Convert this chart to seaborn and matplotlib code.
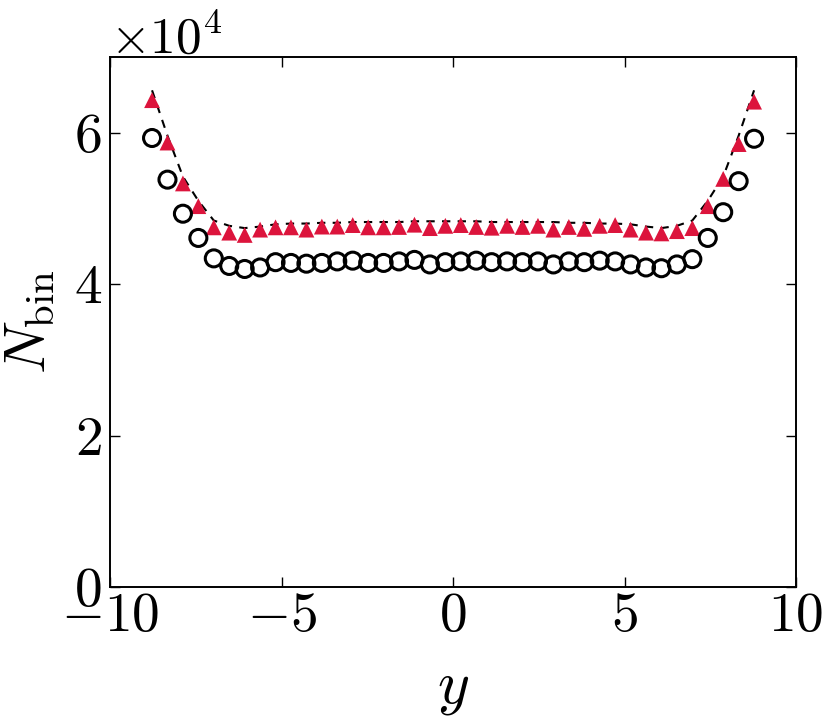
import matplotlib
matplotlib.use("Agg")
import matplotlib.pyplot as plt
import seaborn as sns
import pandas as pd
from matplotlib.ticker import ScalarFormatter

# bin centres
y_centres = [-8.775, -8.325, -7.875, -7.425, -6.975, -6.525, -6.075, -5.625,
             -5.175, -4.725, -4.275, -3.825, -3.375, -2.925, -2.475, -2.025,
             -1.575, -1.125, -0.675, -0.225, 0.225, 0.675, 1.125, 1.575,
             2.025, 2.475, 2.925, 3.375, 3.825, 4.275, 4.725, 5.175,
             5.625, 6.075, 6.525, 6.975, 7.425, 7.875, 8.325, 8.775]

# open circles
n_circles = [59300, 53800, 49300, 46100, 43400, 42400, 42000, 42200,
             42900, 42800, 42700, 42800, 43000, 43100, 42800, 42800,
             43000, 43200, 42600, 42900, 43000, 43100, 42900, 43000,
             42900, 43000, 42600, 43000, 42900, 43100, 43000, 42600,
             42200, 42100, 42600, 43300, 46100, 49500, 53600, 59200]

# red triangles
n_triangles = [64300, 58700, 53300, 50300, 47500, 46800, 46500, 47200,
               47500, 47500, 47200, 47600, 47600, 47800, 47500, 47500,
               47550, 47850, 47400, 47700, 47800, 47550, 47450, 47700,
               47550, 47700, 47200, 47550, 47300, 47700, 47800, 47200,
               46800, 46700, 47000, 47400, 50300, 53900, 58500, 64100]

# dashed curve
n_dashed = [65600, 59600, 54200, 51000, 48400, 47700, 47400, 47600,
            47900, 48000, 48000, 48100, 48100, 48200, 48200, 48200,
            48200, 48300, 48300, 48300, 48300, 48300, 48200, 48200,
            48200, 48200, 48200, 48100, 48100, 48000, 48000, 47900,
            47600, 47400, 47700, 48400, 51000, 54200, 59600, 65600]

df = pd.DataFrame({"y": y_centres, "circ": n_circles,
                   "tri": n_triangles, "dash": n_dashed})

sns.set_style("ticks")
plt.rcParams["mathtext.fontset"] = "cm"
plt.rcParams["font.family"] = ["serif"]
plt.rcParams["font.serif"] = ["cmr10", "DejaVu Serif"]
plt.rcParams["axes.formatter.use_mathtext"] = True
plt.rcParams["axes.unicode_minus"] = True
plt.rcParams["text.color"] = "black"
plt.rcParams["xtick.color"] = "black"
plt.rcParams["ytick.color"] = "black"
plt.rcParams["axes.labelcolor"] = "black"
plt.rcParams["axes.edgecolor"] = "black"

fig = plt.figure(figsize=(8.31, 7.26), dpi=100)
ax = fig.add_axes([0.1324, 0.1915, 0.958 - 0.1324, 0.9215 - 0.1915])

sns.lineplot(data=df, x="y", y="dash", ax=ax, color="black",
             linestyle=(0, (4, 3.5)), linewidth=1.5, legend=False)
sns.scatterplot(data=df, x="y", y="tri", ax=ax, marker="^", s=130,
                color="#DC143C", edgecolor="none", legend=False, zorder=3)
sns.scatterplot(data=df, x="y", y="circ", ax=ax, marker="o", s=150,
                facecolor="none", edgecolor="black", linewidth=2.2,
                legend=False, zorder=4)

ax.set_xlim(-10, 10)
ax.set_ylim(0, 70000)
ax.set_xticks([-10, -5, 0, 5, 10])
ax.set_yticks([0, 20000, 40000, 60000])
fmt = ScalarFormatter(useMathText=True)
fmt.set_powerlimits((0, 0))
ax.yaxis.set_major_formatter(fmt)
ax.xaxis.set_major_formatter(ScalarFormatter(useMathText=True))

ax.tick_params(direction="in", length=7, width=1, labelsize=40,
               top=True, right=True)
ax.tick_params(axis="x", pad=4)
ax.tick_params(axis="y", pad=6)
ax.yaxis.get_offset_text().set_fontsize(37)
for s in ax.spines.values():
    s.set_linewidth(1.4)

ax.set_xlabel(r"$y$", fontsize=44, labelpad=14)
ax.set_ylabel(r"$N_{\mathrm{bin}}$", fontsize=42, labelpad=12)

fig.savefig("out.png", dpi=100)
